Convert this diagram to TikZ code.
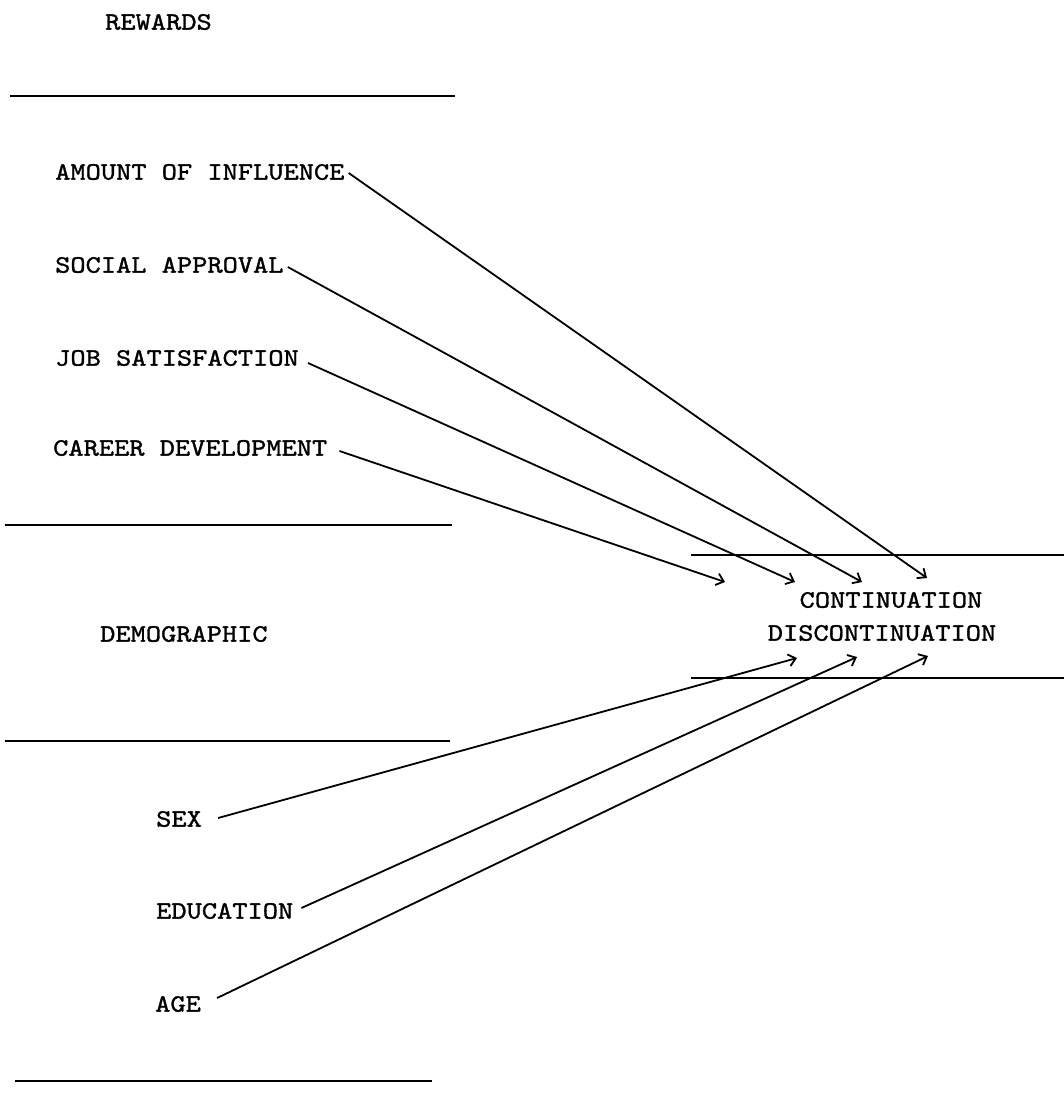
\documentclass[tikz,border=0pt]{standalone}
\usepackage{fontspec}
\newfontfamily\tw{lmmono10-regular.otf}[FakeStretch=1.16,FakeBold=1.3]
\usetikzlibrary{arrows.meta}
\begin{document}
\begin{tikzpicture}[x=1pt,y=-1pt,
  lbl/.style={font=\tw\fontsize{25}{28}\selectfont, inner sep=0pt, anchor=west},
  ctr/.style={font=\tw\fontsize{25}{28}\selectfont, inner sep=0pt},
  rule/.style={line width=2.4pt},
  link/.style={line width=1.8pt, -{Straight Barb[length=7pt,width=12pt,line width=1.8pt]}}]
\useasboundingbox (0,0) rectangle (1064,1113);
% texts
\node[lbl] (rew) at (105,22) {REWARDS};
\node[lbl] (inf) at (55,172) {AMOUNT OF INFLUENCE};
\node[lbl] (soc) at (55,265) {SOCIAL APPROVAL};
\node[lbl] (job) at (55,358) {JOB SATISFACTION};
\node[lbl] (car) at (53,448) {CAREER DEVELOPMENT};
\node[lbl] (dem) at (100,634) {DEMOGRAPHIC};
\node[lbl] (sex) at (156,819) {SEX};
\node[lbl] (edu) at (156,911) {EDUCATION};
\node[lbl] (age) at (155,1004) {AGE};
\node[ctr] (con) at (891,600) {CONTINUATION};
\node[ctr] (dis) at (882,633) {DISCONTINUATION};
% rules
\draw[rule] (10,96) -- (455,96);
\draw[rule] (5,525) -- (452,525);
\draw[rule] (5,741) -- (450,741);
\draw[rule] (15,1081) -- (432,1081);
\draw[rule] (691,555) -- (1064,555);
\draw[rule] (691,678) -- (1064,678);
% targets
\coordinate (t1) at (927,578);
\coordinate (t2) at (862,582);
\coordinate (t3) at (795,582);
\coordinate (t4) at (725,582);
\coordinate (b1) at (797,658);
\coordinate (b2) at (857,657);
\coordinate (b3) at (928,656);
% arrows
\draw[link] ([shift={(4,1)}]inf.east) -- (t1);
\draw[link] ([shift={(4,2)}]soc.east) -- (t2);
\draw[link] ([shift={(9,5)}]job.east) -- (t3);
\draw[link] ([shift={(12,3)}]car.east) -- (t4);
\draw[link] ([shift={(16,-1)}]sex.east) -- (b1);
\draw[link] ([shift={(8,-3)}]edu.east) -- (b2);
\draw[link] ([shift={(16,-6)}]age.east) -- (b3);
\end{tikzpicture}
\end{document}
